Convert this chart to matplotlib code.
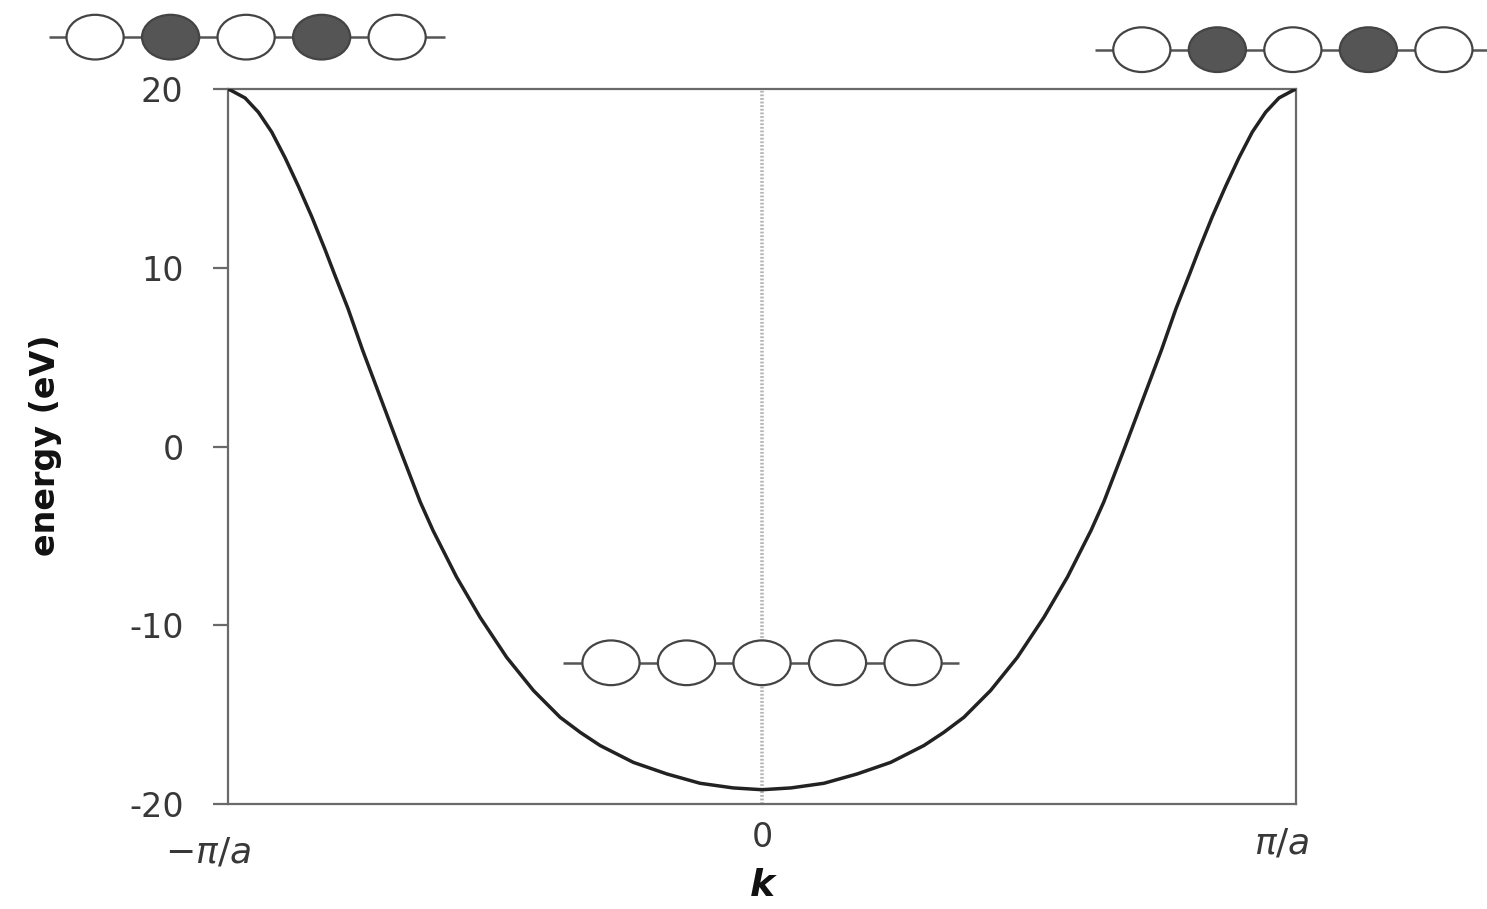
import matplotlib.pyplot as plt
from matplotlib.patches import Ellipse

plt.rcParams['font.family'] = ['DejaVu Sans']
plt.rcParams['mathtext.fontset'] = 'dejavusans'

# band energy read along the left half of the zone (k in units of pi/a)
k_half = [-1.0, -0.993, -0.968, -0.943, -0.918, -0.893, -0.868, -0.843,
          -0.818, -0.800, -0.775, -0.748, -0.714, -0.680, -0.640, -0.616,
          -0.572, -0.528, -0.478, -0.428, -0.378, -0.340, -0.303, -0.241,
          -0.178, -0.116, -0.054, 0.0]
e_half = [20.0, 19.9, 19.5, 18.7, 17.59, 16.15, 14.55, 12.85,
          11.0, 9.6, 7.7, 5.4, 2.7, 0.0, -3.1, -4.7,
          -7.3, -9.55, -11.8, -13.65, -15.15, -16.0, -16.73, -17.67,
          -18.32, -18.84, -19.10, -19.2]

# the band is symmetric in k
k = k_half + [-v for v in k_half[-2::-1]]
energy = e_half + e_half[-2::-1]

yticks = [-20, -10, 0, 10, 20]

# atom chains: which sites are dark
chain_top = [False, True, False, True, False]
chain_bottom = [False, False, False, False, False]

fig = plt.figure(figsize=(14.87, 9.09), dpi=100)
ax = fig.add_axes([0.1533, 0.1155, 0.7183, 0.7866])

ax.plot(k, energy, color='#222222', lw=2.5, zorder=3)
ax.axvline(0, color='#b5b5b5', lw=2.6, ls=(0, (0.5, 0.5)), zorder=1)

ax.set_xlim(-1, 1)
ax.set_ylim(-20, 20)
for s in ax.spines.values():
    s.set_color('#6a6a6a')
    s.set_linewidth(1.6)

ax.set_yticks(yticks)
ax.set_yticklabels([str(v) for v in yticks])
ax.tick_params(axis='y', length=11, width=1.6, color='#6a6a6a',
               labelsize=24, labelcolor='#383838', pad=21)
ax.set_xticks([])

# k-axis labels
lab = dict(ha='center', va='center', color='#383838', clip_on=False)
ax.text(-1.037, -22.7, r'$-\pi/a$', fontsize=26, **lab)
ax.text(0, -21.9, '0', fontsize=24, **lab)
ax.text(0.974, -22.2, r'$\pi/a$', fontsize=26, **lab)
ax.text(0, -24.6, 'k', fontsize=27, fontweight='bold', fontstyle='italic',
        ha='center', va='center', color='#111111')

ax.set_ylabel('energy (eV)', fontsize=24, fontweight='bold', color='#111111')
ax.yaxis.set_label_coords(-0.1554, 0.502)


def draw_chain(ax, xc, yc, dark, line_left, line_right):
    step = 0.1414
    w, h = 0.107, 2.5
    ax.plot([line_left, line_right], [yc, yc], color='#555555', lw=1.8,
            clip_on=False, zorder=4, solid_capstyle='butt')
    for i, d in enumerate(dark):
        x = xc + (i - 2) * step
        e = Ellipse((x, yc), w, h, facecolor='#555555' if d else 'white',
                    edgecolor='#444444', lw=1.6, clip_on=False, zorder=5)
        ax.add_patch(e)


draw_chain(ax, -0.966, 22.9, chain_top, -1.336, -0.594)
draw_chain(ax, 0.994, 22.2, chain_top, 0.624, 1.42)
draw_chain(ax, 0.0, -12.1, chain_bottom, -0.373, 0.369)

fig.savefig('out.png', dpi=100, facecolor='white')
